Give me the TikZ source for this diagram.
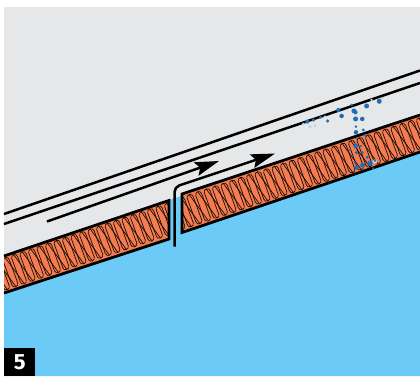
\documentclass[tikz,border=0pt]{standalone}
\usepackage{xcolor}
\usepackage{fontspec}
\setsansfont{Fira Sans}
\usetikzlibrary{arrows.meta}
\definecolor{grisFondo}{HTML}{E6E7E8}
\definecolor{azulCielo}{HTML}{6BCBF6}
\definecolor{naranjaLana}{HTML}{F47C50}
\definecolor{azulGota}{HTML}{1F6DB5}

\begin{document}
\begin{tikzpicture}[
    x=1pt, y=-1pt,
    lamina/.style={line width=2.5pt, black},
    borde/.style={line width=2.8pt, black, line join=miter},
    flecha/.style={-{Stealth[length=24pt, width=14pt, inset=4pt]}, line width=2.5pt, black},
    espira/.style={line width=0.7pt, black!90!naranjaLana},
    vuelta/.pic={
        \draw[espira, rounded corners=3pt] (-3.1,-15.5) rectangle (3.1,15.5);
        \draw[espira] (0,-15.5) -- (9,15.5);
    }
]
    \useasboundingbox (0,0) rectangle (420,376);
    \fill[grisFondo] (4,7) rectangle (420,376);
    \fill[azulCielo] (4,256) -- (420,115) -- (420,376) -- (4,376) -- cycle;

    % left batt
    \begin{scope}
        \clip (4,256) -- (169,200.5) -- (169,239) -- (4,293) -- cycle;
        \fill[naranjaLana] (4,200) rectangle (169,293);
        \foreach \i in {-2,...,21} {
            \pic[rotate=20] at ({2+8.5*\i},{275-2.86*\i}) {vuelta};
        }
    \end{scope}
    \draw[borde] (4,256) -- (169,200.5) -- (169,239) -- (4,293);

    % right batt
    \begin{scope}
        \clip (182,194) -- (420,115) -- (420,152) -- (182,232.5) -- cycle;
        \fill[naranjaLana] (182,100) rectangle (420,240);
        \foreach \i in {-2,...,29} {
            \pic[rotate=20] at ({186+8.5*\i},{212-2.84*\i}) {vuelta};
        }
    \end{scope}
    \draw[borde] (420,115) -- (182,194) -- (182,232.5) -- (420,152);

    \draw[lamina] (4,214) -- (420,70.5);
    \draw[lamina] (4,224) -- (420,83);
    \draw[flecha] (47,221.5) -- (219,161);
    \draw[flecha, rounded corners=5pt] (174.5,246.5) -- (174.5,187) -- (275,153.5);

    % water drops
    \begin{scope}[shift={(290,60)}, x=0.333pt, y=-0.333pt]
        \foreach \dx/\dy/\dr in {60/200/4, 75/197/3.5, 245/120/3, 278/115/3, 105/170/3, 40/192/3, 255/305/5} {
            \fill[azulGota!30] (\dx,\dy) circle ({\dr*0.45pt});
        }
        \foreach \dx/\dy/\dr in {52/185/4.5, 70/180/4, 92/172/3.5, 113/183/4, 145/150/4.5,
            155/168/5, 185/135/3, 192/153/5.5, 197/157/4.5, 230/138/5.5, 268/124/5.5,
            197/177/5.5, 217/177/5, 198/200/3, 198/217/5, 220/210/3.5, 226/226/3.5,
            200/235/3, 197/258/5, 213/258/3, 200/278/4, 217/278/3.5, 232/292/3.5,
            240/310/6, 218/316/5.5, 200/323/5, 195/308/3, 255/302/3, 180/270/2.5, 250/325/2.5} {
            \fill[azulGota] (\dx,\dy) circle ({\dr*0.45pt});
        }
    \end{scope}

    \node[fill=black, text=white, font=\sffamily\bfseries\fontsize{22}{22}\selectfont,
        anchor=north west, minimum width=31pt, minimum height=28pt, inner sep=0pt] (paso) at (4,348) {5};
\end{tikzpicture}
\end{document}
